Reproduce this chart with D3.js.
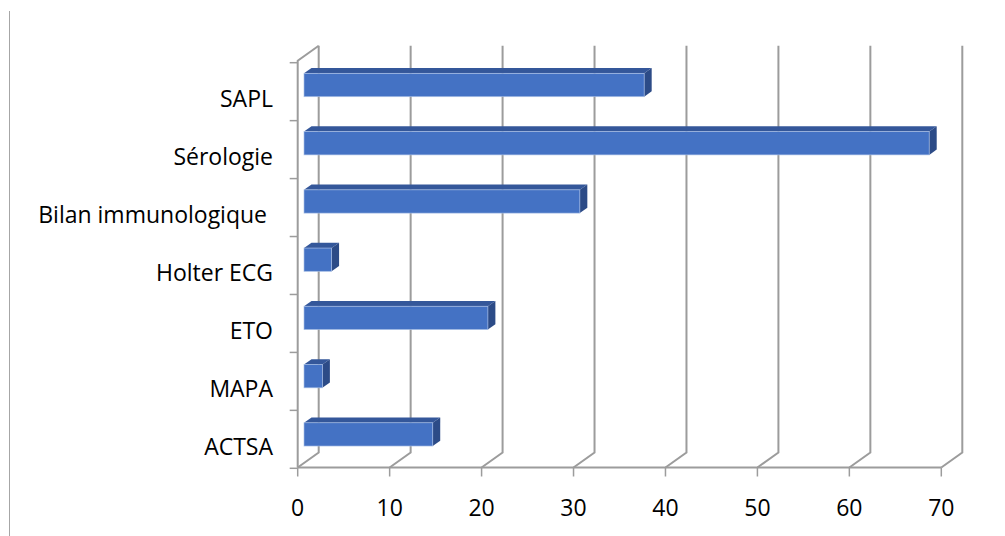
<!DOCTYPE html>
<html><head><meta charset="utf-8">
<script src="https://cdn.jsdelivr.net/npm/d3@7"></script>
<style>
html,body{margin:0;padding:0;background:#fff;}
svg{display:block;}
text{font-family:"Open Sans",sans-serif;fill:#000;white-space:pre;}
</style></head>
<body>
<script>
const categories = ["SAPL", "Sérologie", "Bilan immunologique ", "Holter ECG", "ETO", "MAPA", "ACTSA"];
const values = [37, 68, 30, 3, 20, 2, 14];
const tickValues = [0, 10, 20, 30, 40, 50, 60, 70];

const W = 1005, H = 536;
const svg = d3.select("body").append("svg").attr("width", W).attr("height", H);

// left border line
svg.append("line").attr("x1", 9.5).attr("x2", 9.5).attr("y1", 11).attr("y2", H)
  .attr("stroke", "#a6a6a6").attr("stroke-width", 1);

const x = d3.scaleLinear().domain([0, 70]).range([297.7, 941.3]);
const yAxis = d3.scaleBand().domain(categories).range([62.7, 468.3]);
const yBar = d3.scaleBand().domain(categories).range([61.5, 469.1]).paddingInner(0.6).paddingOuter(0.3);

const floorY = 467.5;
const D = {dx: 21, dy: -15};     // wall depth
const topY = 45.7;               // back wall top
const grid = "#9c9c9c";

// gridlines on back wall + floor diagonals
const g = svg.append("g");
tickValues.forEach(t => {
  const xf = x(t);
  g.append("path")
    .attr("d", `M${xf},${floorY} L${xf + D.dx},${floorY + D.dy} L${xf + D.dx},${topY}`)
    .attr("fill", "none").attr("stroke", grid).attr("stroke-width", 2);
});
// front floor line
g.append("line").attr("x1", x(0)).attr("x2", x(70)).attr("y1", floorY).attr("y2", floorY)
  .attr("stroke", grid).attr("stroke-width", 2);
// left wall
g.append("path")
  .attr("d", `M${x(0)},${floorY} L${x(0)},${topY - D.dy} L${x(0) + D.dx},${topY}`)
  .attr("fill", "none").attr("stroke", grid).attr("stroke-width", 2);

// x ticks
tickValues.forEach(t => {
  g.append("line").attr("x1", x(t)).attr("x2", x(t)).attr("y1", floorY).attr("y2", floorY + 9)
    .attr("stroke", grid).attr("stroke-width", 1.5);
});
// y ticks
const yTicks = categories.map(c => yAxis(c)).concat([yAxis.range()[1]]);
yTicks.forEach(yy => {
  g.append("line").attr("x1", x(0) - 8).attr("x2", x(0)).attr("y1", yy).attr("y2", yy)
    .attr("stroke", grid).attr("stroke-width", 1.5);
});

// bars
const shift = {dx: 6.3, dy: -5.6};
const bd = {dx: 7.5, dy: -5.3};
const bars = svg.append("g");
categories.forEach((c, i) => {
  const v = values[i];
  const x0 = x(0) + shift.dx, x1 = x(v) + shift.dx;
  const y0 = yBar(c) + shift.dy, y1 = y0 + yBar.bandwidth();
  // top face
  bars.append("path")
    .attr("d", `M${x0},${y0} L${x0 + bd.dx},${y0 + bd.dy} L${x1 + bd.dx},${y0 + bd.dy} L${x1},${y0} Z`)
    .attr("fill", "#34579a");
  // side face
  bars.append("path")
    .attr("d", `M${x1},${y0} L${x1 + bd.dx},${y0 + bd.dy} L${x1 + bd.dx},${y1 + bd.dy} L${x1},${y1} Z`)
    .attr("fill", "#2c4b87");
  // front face
  bars.append("rect").attr("x", x0).attr("y", y0).attr("width", x1 - x0).attr("height", y1 - y0)
    .attr("fill", "#4472c4").attr("stroke", "#a9bfe6").attr("stroke-width", 0.8).attr("stroke-opacity", 0.8);
});

// category labels
svg.append("g").selectAll("text").data(categories).join("text")
  .attr("x", 273).attr("y", d => yAxis(d) + yAxis.bandwidth() / 2 + 15.5)
  .attr("text-anchor", "end").attr("font-size", 23).text(d => d);

// tick labels
svg.append("g").selectAll("text").data(tickValues).join("text")
  .attr("x", d => x(d)).attr("y", 516).attr("text-anchor", "middle").attr("font-size", 23)
  .text(d => d);
</script>
</body></html>
